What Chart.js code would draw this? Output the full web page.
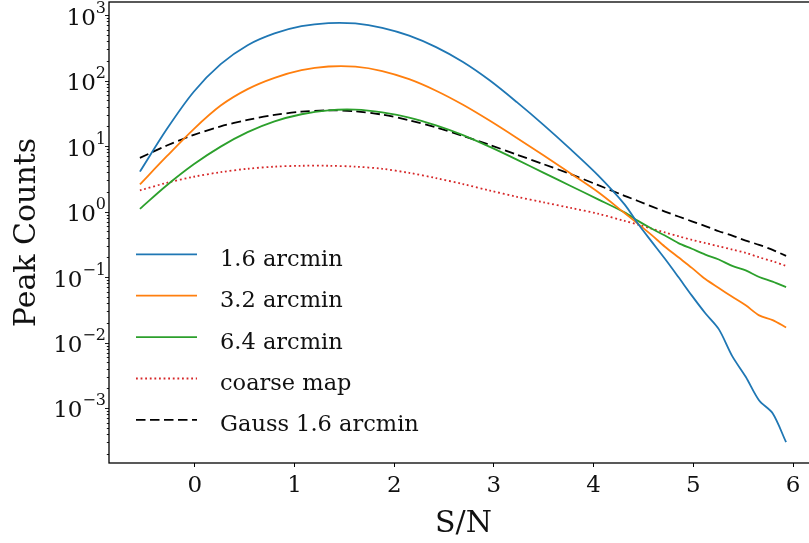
<!DOCTYPE html>
<html>
<head>
<meta charset="utf-8">
<script src="https://cdn.jsdelivr.net/npm/chart.js@4.4.0/dist/chart.umd.min.js"></script>
<style>
  html, body { margin: 0; padding: 0; background: #fff; overflow: hidden; }
  #wrap { width: 809px; height: 543px; overflow: hidden; }
  canvas { display: block; }
</style>
</head>
<body>
<div id="wrap"><canvas id="graph" width="830" height="543"></canvas></div>
<script>
// S/N bin centres (coarser on the smooth part, every bin on the noisy tail)
const SN = [-0.55, -0.28, -0.01, 0.26, 0.53, 0.80, 1.07, 1.34, 1.61, 1.88, 2.15, 2.42, 2.69,
            2.96, 3.23, 3.50, 3.77, 4.04, 4.31, 4.445, 4.58, 4.715, 4.85, 4.985, 5.12, 5.255,
            5.39, 5.525, 5.66, 5.795, 5.93];

const ARCMIN_16 = [4.07, 18.2, 67.6, 178, 347, 525, 676, 755, 745, 640, 485, 324, 192,
                   100, 46.8, 20.9, 8.9, 3.63, 1.29, 0.65, 0.35, 0.19, 0.1, 0.052, 0.028, 0.016,
                   0.0062, 0.003, 0.0013, 0.00083, 0.0003];
const ARCMIN_32 = [2.6, 7.0, 18.2, 41.5, 74, 110, 144, 164, 163, 140, 105, 70, 42.7,
                   24.3, 13.3, 7.16, 3.8, 2.0, 0.95, 0.65, 0.44, 0.29, 0.2, 0.138, 0.093, 0.068,
                   0.05, 0.037, 0.026, 0.022, 0.017];
const ARCMIN_64 = [1.1, 2.52, 5.26, 9.8, 16.3, 23.8, 30.6, 35.2, 36.0, 32.8, 27.3, 20.7, 14.7,
                   9.7, 6.2, 3.9, 2.46, 1.55, 0.97, 0.72, 0.55, 0.43, 0.33, 0.27, 0.22, 0.185,
                   0.148, 0.126, 0.1, 0.085, 0.07];
const COARSE = [2.1, 2.75, 3.4, 4.0, 4.5, 4.85, 5.0, 5.0, 4.85, 4.5, 3.9, 3.24, 2.63,
                2.09, 1.68, 1.38, 1.135, 0.93, 0.72, 0.63, 0.55, 0.48, 0.42, 0.37, 0.33, 0.295,
                0.263, 0.234, 0.2, 0.174, 0.148];
const GAUSS_16 = [6.6, 10.2, 14.8, 20, 25.1, 29.9, 33.5, 35.1, 33.9, 30.2, 24.8, 19.3, 14.3,
                  10.4, 7.4, 5.27, 3.73, 2.55, 1.74, 1.45, 1.2, 1.0, 0.84, 0.71, 0.6, 0.5,
                  0.43, 0.36, 0.31, 0.26, 0.21];

const SERIES_LABELS = ["1.6 arcmin", "3.2 arcmin", "6.4 arcmin", "coarse map", "Gauss 1.6 arcmin"];
const X_TICKS = [0, 1, 2, 3, 4, 5, 6];
const Y_TICK_EXPONENTS = [-3, -2, -1, 0, 1, 2, 3];

const SERIF = "'DejaVu Serif', serif";
const INK = "#111";

const toPoints = ys => ys.map((y, i) => ({ x: SN[i], y }));

function lineSet(label, data, color, dash) {
    return {
        label,
        data: toPoints(data),
        borderColor: color,
        backgroundColor: color,
        borderWidth: 1.8,
        borderDash: dash,
        pointRadius: 0,
        fill: false,
        tension: 0.3,
    };
}

// legend drawn inside the axes, lower left, like the matplotlib one
const insideLegend = {
    id: 'insideLegend',
    afterDatasetsDraw(chart) {
        const ctx = chart.ctx;
        chart.data.datasets.forEach((ds, i) => {
            const y = 254.3 + i * 41.4;
            ctx.save();
            ctx.strokeStyle = ds.borderColor;
            ctx.lineWidth = ds.borderWidth;
            ctx.setLineDash(ds.borderDash || []);
            ctx.beginPath();
            ctx.moveTo(136, y);
            ctx.lineTo(197, y);
            ctx.stroke();
            ctx.setLineDash([]);
            ctx.fillStyle = INK;
            ctx.font = `22.5px ${SERIF}`;
            ctx.textBaseline = 'alphabetic';
            ctx.fillText(ds.label, 220, y + 11.4);
            ctx.restore();
        });
    }
};

// frame, log ticks with 10^n labels, axis titles
const axesDecor = {
    id: 'axesDecor',
    afterDraw(chart) {
        const { ctx, chartArea: a, scales: { y } } = chart;
        ctx.save();
        ctx.strokeStyle = '#000';
        ctx.lineWidth = 1.3;
        ctx.strokeRect(a.left, a.top, a.right - a.left, a.bottom - a.top);

        ctx.lineWidth = 0.9;
        for (let e = -5; e <= 4; e++) {
            for (let k = 1; k <= 9; k++) {
                const v = k * Math.pow(10, e);
                if (v < y.min || v > y.max) continue;
                const py = Math.round(y.getPixelForValue(v)) + 0.5;
                const len = k === 1 ? 4 : 2.2;
                ctx.beginPath();
                ctx.moveTo(a.left - len, py);
                ctx.lineTo(a.left, py);
                ctx.stroke();
            }
        }

        ctx.fillStyle = INK;
        ctx.textBaseline = 'alphabetic';
        Y_TICK_EXPONENTS.forEach(e => {
            const py = y.getPixelForValue(Math.pow(10, e));
            const exp = e < 0 ? '\u2212' + (-e) : String(e);
            ctx.font = `16px ${SERIF}`;
            const ew = ctx.measureText(exp).width;
            ctx.textAlign = 'left';
            ctx.fillText(exp, 106 - ew, py - 2.5);
            ctx.font = `23px ${SERIF}`;
            ctx.textAlign = 'right';
            ctx.fillText('10', 106 - ew, py + 9.5);
        });

        ctx.font = `30px ${SERIF}`;
        ctx.textAlign = 'center';
        ctx.fillText('S/N', 463.5, 531.7);

        ctx.translate(35, (a.top + a.bottom) / 2);
        ctx.rotate(-Math.PI / 2);
        ctx.fillText('Peak Counts', 0, 0);
        ctx.restore();
    }
};

const ctx = document.getElementById('graph').getContext('2d');
new Chart(ctx, {
    type: 'line',
    data: {
        datasets: [
            lineSet(SERIES_LABELS[0], ARCMIN_16, '#1f77b4', []),
            lineSet(SERIES_LABELS[1], ARCMIN_32, '#ff7f0e', []),
            lineSet(SERIES_LABELS[2], ARCMIN_64, '#2ca02c', []),
            lineSet(SERIES_LABELS[3], COARSE, '#d62728', [1.8, 2.8]),
            lineSet(SERIES_LABELS[4], GAUSS_16, '#000000', [9.5, 4.5]),
        ],
    },
    options: {
        responsive: false,
        devicePixelRatio: 1,
        animation: false,
        layout: { padding: { left: 0, right: 12, top: 2, bottom: 0 } },
        plugins: {
            legend: { display: false },
            tooltip: { enabled: false },
        },
        scales: {
            x: {
                type: 'linear',
                min: -0.86,
                max: 6.25,
                afterFit: s => { s.height = 80; },
                afterBuildTicks: s => { s.ticks = X_TICKS.map(v => ({ value: v })); },
                border: { display: false },
                grid: {
                    display: true,
                    drawOnChartArea: false,
                    drawTicks: true,
                    tickLength: 4,
                    tickWidth: 1,
                    tickColor: '#000',
                },
                ticks: {
                    color: INK,
                    font: { family: SERIF, size: 23 },
                    padding: 5,
                    maxRotation: 0,
                    autoSkip: false,
                    callback: v => String(v),
                },
            },
            y: {
                type: 'logarithmic',
                min: Math.pow(10, -3.84),
                max: Math.pow(10, 3.2),
                afterFit: s => { s.width = 109; },
                border: { display: false },
                grid: { display: false },
                ticks: { display: false },
            },
        },
    },
    plugins: [insideLegend, axesDecor],
});
</script>
</body>
</html>
